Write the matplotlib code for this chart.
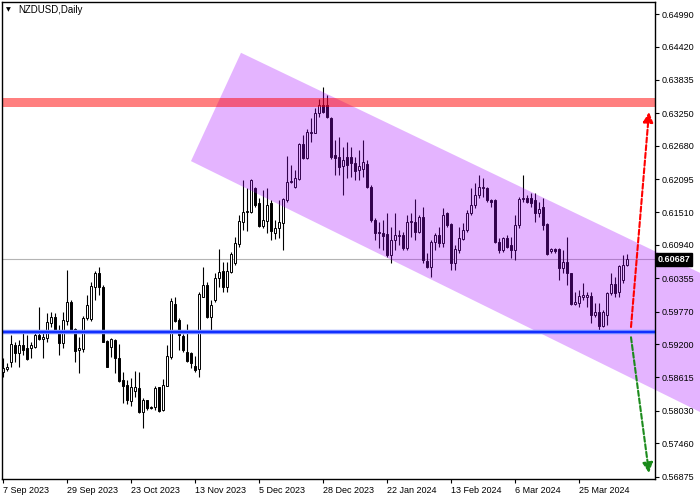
import matplotlib
matplotlib.use("Agg")
import matplotlib.pyplot as plt
from matplotlib.patches import Polygon

plt.rcParams['font.family'] = ['Liberation Sans', 'DejaVu Sans']

symbol = "NZDUSD,Daily"

# daily candles (open, high, low, close)
opens = [0.5871, 0.5877, 0.5889, 0.5919, 0.5905, 0.5919, 0.5913, 0.5914, 0.5915, 0.5936,
         0.5929, 0.5931, 0.5957, 0.5968, 0.5945, 0.5922, 0.5961, 0.5994, 0.5946, 0.5910,
         0.5911, 0.5966, 0.5964, 0.6021, 0.6045, 0.6020, 0.5925, 0.5915, 0.5927, 0.5896,
         0.5857, 0.5849, 0.5821, 0.5838, 0.5843, 0.5801, 0.5822, 0.5810, 0.5810, 0.5844,
         0.5805, 0.5847, 0.5898, 0.5990, 0.5962, 0.5934, 0.5907, 0.5905, 0.5881, 0.5876,
         0.6003, 0.6024, 0.5968, 0.5997, 0.6036, 0.6048, 0.6020, 0.6046, 0.6062, 0.6096,
         0.6134, 0.6152, 0.6152, 0.6194, 0.6168, 0.6127, 0.6136, 0.6168, 0.6115, 0.6124,
         0.6132, 0.6173, 0.6204, 0.6196, 0.6210, 0.6271, 0.6246, 0.6290, 0.6290, 0.6325,
         0.6339, 0.6339, 0.6317, 0.6251, 0.6248, 0.6232, 0.6248, 0.6248, 0.6238, 0.6225,
         0.6227, 0.6236, 0.6196, 0.6138, 0.6117, 0.6115, 0.6113, 0.6076, 0.6103, 0.6110,
         0.6111, 0.6089, 0.6134, 0.6134, 0.6117, 0.6143, 0.6066, 0.6055, 0.6099, 0.6111,
         0.6097, 0.6150, 0.6131, 0.6062, 0.6085, 0.6104, 0.6120, 0.6150, 0.6164, 0.6182,
         0.6194, 0.6194, 0.6173, 0.6173, 0.6099, 0.6085, 0.6106, 0.6094, 0.6085, 0.6129,
         0.6175, 0.6176, 0.6176, 0.6173, 0.6150, 0.6161, 0.6131, 0.6083, 0.6087, 0.6087,
         0.6053, 0.6064, 0.6045, 0.5990, 0.5992, 0.6003, 0.6003, 0.6004, 0.5971, 0.5976,
         0.5952, 0.5971, 0.6010, 0.6025, 0.6011, 0.6032, 0.6059]
highs = [0.5896, 0.5887, 0.5936, 0.5924, 0.5927, 0.5945, 0.5936, 0.5924, 0.5939, 0.5985,
         0.5945, 0.5974, 0.5977, 0.5974, 0.5953, 0.5977, 0.6050, 0.5997, 0.5948, 0.5933,
         0.5969, 0.6006, 0.6029, 0.6048, 0.6055, 0.6024, 0.5927, 0.5931, 0.5929, 0.5920,
         0.5871, 0.5857, 0.5861, 0.5873, 0.5871, 0.5825, 0.5822, 0.5812, 0.5847, 0.5845,
         0.5858, 0.5919, 0.6001, 0.6003, 0.5965, 0.5938, 0.5955, 0.5907, 0.5899, 0.6012,
         0.6055, 0.6029, 0.5997, 0.6045, 0.6087, 0.6064, 0.6064, 0.6082, 0.6108, 0.6146,
         0.6208, 0.6194, 0.6210, 0.6196, 0.6176, 0.6190, 0.6194, 0.6173, 0.6138, 0.6173,
         0.6176, 0.6250, 0.6234, 0.6225, 0.6273, 0.6287, 0.6297, 0.6317, 0.6334, 0.6350,
         0.6371, 0.6357, 0.6319, 0.6278, 0.6283, 0.6266, 0.6274, 0.6266, 0.6248, 0.6260,
         0.6278, 0.6243, 0.6199, 0.6141, 0.6134, 0.6138, 0.6150, 0.6125, 0.6150, 0.6120,
         0.6117, 0.6146, 0.6150, 0.6175, 0.6146, 0.6161, 0.6080, 0.6103, 0.6115, 0.6125,
         0.6159, 0.6152, 0.6133, 0.6094, 0.6125, 0.6133, 0.6155, 0.6194, 0.6203, 0.6217,
         0.6211, 0.6196, 0.6175, 0.6175, 0.6106, 0.6108, 0.6111, 0.6108, 0.6146, 0.6178,
         0.6217, 0.6182, 0.6185, 0.6185, 0.6169, 0.6176, 0.6133, 0.6089, 0.6089, 0.6089,
         0.6085, 0.6108, 0.6045, 0.6011, 0.6015, 0.6027, 0.6011, 0.6011, 0.5992, 0.5992,
         0.5980, 0.6011, 0.6045, 0.6038, 0.6059, 0.6076, 0.6078]
lows = [0.5863, 0.5873, 0.5880, 0.5889, 0.5880, 0.5901, 0.5892, 0.5896, 0.5913, 0.5927,
        0.5896, 0.5924, 0.5950, 0.5942, 0.5901, 0.5913, 0.5953, 0.5942, 0.5889, 0.5869,
        0.5907, 0.5962, 0.5960, 0.5997, 0.6006, 0.5924, 0.5880, 0.5897, 0.5869, 0.5854,
        0.5817, 0.5815, 0.5812, 0.5827, 0.5799, 0.5773, 0.5805, 0.5806, 0.5805, 0.5801,
        0.5803, 0.5847, 0.5894, 0.5959, 0.5910, 0.5907, 0.5889, 0.5878, 0.5871, 0.5863,
        0.6003, 0.5966, 0.5941, 0.5994, 0.6020, 0.6011, 0.6011, 0.6045, 0.6059, 0.6090,
        0.6120, 0.6118, 0.6150, 0.6161, 0.6125, 0.6124, 0.6115, 0.6103, 0.6104, 0.6106,
        0.6085, 0.6169, 0.6203, 0.6194, 0.6208, 0.6245, 0.6245, 0.6274, 0.6290, 0.6318,
        0.6325, 0.6316, 0.6245, 0.6217, 0.6217, 0.6182, 0.6212, 0.6213, 0.6208, 0.6208,
        0.6213, 0.6194, 0.6134, 0.6103, 0.6089, 0.6085, 0.6073, 0.6062, 0.6085, 0.6094,
        0.6085, 0.6085, 0.6108, 0.6103, 0.6115, 0.6062, 0.6054, 0.6038, 0.6085, 0.6090,
        0.6090, 0.6125, 0.6050, 0.6050, 0.6080, 0.6103, 0.6117, 0.6146, 0.6159, 0.6176,
        0.6178, 0.6169, 0.6161, 0.6097, 0.6080, 0.6082, 0.6089, 0.6071, 0.6068, 0.6124,
        0.6169, 0.6167, 0.6161, 0.6134, 0.6143, 0.6120, 0.6076, 0.6080, 0.6080, 0.6032,
        0.6045, 0.6024, 0.5989, 0.5989, 0.5985, 0.5997, 0.5985, 0.5957, 0.5968, 0.5939,
        0.5950, 0.5953, 0.6006, 0.6003, 0.6003, 0.6027, 0.6057]
closes = [0.5878, 0.5880, 0.5921, 0.5905, 0.5919, 0.5910, 0.5894, 0.5919, 0.5936, 0.5929,
          0.5933, 0.5958, 0.5968, 0.5944, 0.5922, 0.5962, 0.5994, 0.5945, 0.5908, 0.5914,
          0.5966, 0.5988, 0.6022, 0.6045, 0.6020, 0.5924, 0.5880, 0.5929, 0.5896, 0.5855,
          0.5847, 0.5822, 0.5845, 0.5845, 0.5801, 0.5822, 0.5808, 0.5808, 0.5843, 0.5803,
          0.5848, 0.5899, 0.5996, 0.5961, 0.5936, 0.5909, 0.5891, 0.5887, 0.5875, 0.6008,
          0.6024, 0.5968, 0.5989, 0.6036, 0.6046, 0.6020, 0.6048, 0.6078, 0.6097, 0.6136,
          0.6152, 0.6153, 0.6208, 0.6164, 0.6127, 0.6138, 0.6164, 0.6118, 0.6124, 0.6134,
          0.6175, 0.6204, 0.6206, 0.6211, 0.6271, 0.6246, 0.6292, 0.6292, 0.6325, 0.6339,
          0.6327, 0.6318, 0.6248, 0.6246, 0.6231, 0.6243, 0.6234, 0.6238, 0.6224, 0.6232,
          0.6239, 0.6196, 0.6138, 0.6115, 0.6115, 0.6110, 0.6076, 0.6103, 0.6111, 0.6111,
          0.6089, 0.6134, 0.6136, 0.6117, 0.6143, 0.6068, 0.6055, 0.6099, 0.6111, 0.6097,
          0.6146, 0.6129, 0.6062, 0.6087, 0.6106, 0.6120, 0.6150, 0.6164, 0.6182, 0.6196,
          0.6196, 0.6173, 0.6169, 0.6099, 0.6085, 0.6106, 0.6090, 0.6085, 0.6129, 0.6175,
          0.6176, 0.6169, 0.6168, 0.6150, 0.6157, 0.6129, 0.6078, 0.6087, 0.6083, 0.6053,
          0.6064, 0.6045, 0.5990, 0.5994, 0.6004, 0.6006, 0.6006, 0.5971, 0.5976, 0.5952,
          0.5976, 0.6010, 0.6025, 0.6010, 0.6057, 0.6059, 0.60687]

date_labels = ["7 Sep 2023", "29 Sep 2023", "23 Oct 2023", "13 Nov 2023", "5 Dec 2023",
               "28 Dec 2023", "22 Jan 2024", "13 Feb 2024", "6 Mar 2024", "25 Mar 2024"]
label_step = 16   # one date label every 16 bars

price_ticks = [0.64990, 0.64420, 0.63835, 0.63250, 0.62680, 0.62095, 0.61510, 0.60940,
               0.60355, 0.59770, 0.59200, 0.58615, 0.58030, 0.57460, 0.56875]

last_price = 0.60687
resistance = [0.6336, 0.6352]   # red zone
support = 0.59413               # blue line

# descending channel corners (bar index, price)
channel_x = [47, 59.5, 174.25, 174.25]
channel_y = [0.6241, 0.6431, 0.6045, 0.5801]

# forecast arrows: start and end (bar index, price)
up_arrow = [(157, 0.5950), (161.5, 0.6327)]
down_arrow = [(157, 0.5932), (161.5, 0.5694)]

fig = plt.figure(figsize=(7, 5), dpi=100)
ax = fig.add_axes([2 / 700, 21 / 500, 653 / 700, 477 / 500])

idx = list(range(len(opens)))

# wicks
ax.vlines(idx, lows, highs, color='black', lw=0.8, zorder=2)

# bodies: white for up days, black for down days
bottoms = [min(o, c) for o, c in zip(opens, closes)]
heights = [max(abs(c - o), 0.00004) for o, c in zip(opens, closes)]
colors = ['white' if c >= o else 'black' for o, c in zip(opens, closes)]
ax.bar(idx, heights, bottom=bottoms, width=0.6, color=colors, edgecolor='black',
       linewidth=0.7, zorder=3)

# current price line
ax.axhline(last_price, color='#b4b4b4', lw=0.8, zorder=1.5)

# channel
kanal = Polygon(list(zip(channel_x, channel_y)), closed=True, facecolor='#a808ff',
                alpha=0.3, edgecolor='none', zorder=4, clip_on=False)
ax.add_patch(kanal)

# levels
ax.axhspan(resistance[0], resistance[1], color='red', alpha=0.5, lw=0, zorder=5)
ax.axhline(support, color='#8090ff', lw=3.2, zorder=6)
ax.axhline(support, color='#1030ff', lw=1.6, zorder=6.1)

# arrows
for (start, end), kolor in [(up_arrow, 'red'), (down_arrow, '#1a8a1a')]:
    ax.annotate('', xy=end, xytext=start, zorder=7,
                arrowprops=dict(arrowstyle='-|>', color=kolor, lw=1.5,
                                linestyle=(0, (2.5, 1.2)), mutation_scale=15,
                                shrinkA=0, shrinkB=0))

ax.set_xlim(-0.25, 163)
ax.set_ylim(0.56834, 0.65201)

# axes look like the terminal
ax.yaxis.tick_right()
ax.set_yticks(price_ticks)
ax.set_yticklabels([f"{p:.5f}" for p in price_ticks])
ax.set_xticks([i * label_step for i in range(len(date_labels))])
ax.set_xticklabels(date_labels, ha='left')
ax.tick_params(axis='both', direction='out', length=3, width=0.8, labelsize=6.5,
               colors='black', pad=1.5)
ax.tick_params(axis='x', pad=2)
ax.yaxis.set_zorder(10)
ax.xaxis.set_zorder(10)
for s in ax.spines.values():
    s.set_linewidth(1)
    s.set_zorder(10)

# last price label on the price scale
ax.text(1.004, last_price, f"{last_price:.5f}", transform=ax.get_yaxis_transform(),
        ha='left', va='center', color='white', fontsize=6.5, fontweight='bold',
        zorder=11, clip_on=False,
        bbox=dict(facecolor='black', edgecolor='black', pad=1.5))

# symbol title
fig.text(8 / 700, 1 - 10 / 500, "\u25bc", fontsize=4.5, va='center', ha='center',
         family='DejaVu Sans')
fig.text(18 / 700, 1 - 10 / 500, symbol, fontsize=7, va='center', ha='left')

fig.savefig("out.png", dpi=100)
